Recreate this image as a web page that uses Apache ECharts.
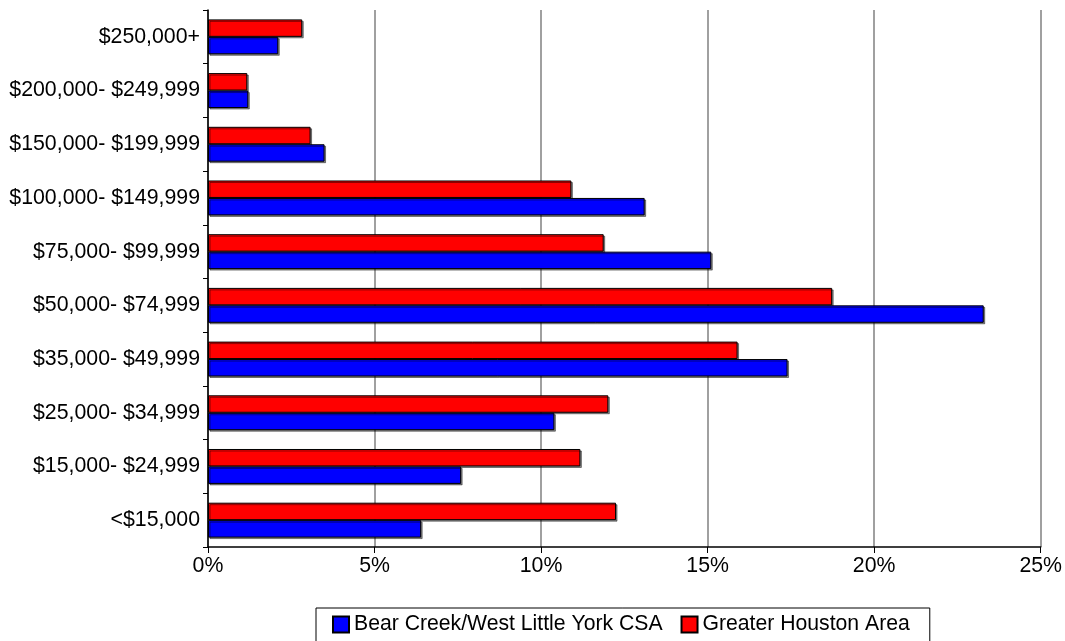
<!DOCTYPE html>
<html>
<head>
<meta charset="utf-8">
<script src="https://cdn.jsdelivr.net/npm/echarts@6/dist/echarts.min.js"></script>
<style>
html,body{margin:0;padding:0;background:#fff;}
#chart{width:1065px;height:641px;}
</style>
</head>
<body>
<div id="chart"></div>
<script>
var categories = ["<$15,000", "$15,000- $24,999", "$25,000- $34,999", "$35,000- $49,999", "$50,000- $74,999", "$75,000- $99,999", "$100,000- $149,999", "$150,000- $199,999", "$200,000- $249,999", "$250,000+"];
var bearCreek = [6.40, 7.60, 10.40, 17.40, 23.29, 15.11, 13.11, 3.50, 1.21, 2.11];
var houston = [12.25, 11.18, 12.02, 15.90, 18.74, 11.88, 10.91, 3.08, 1.18, 2.83];
var seriesNames = ["Bear Creek/West Little York CSA", "Greater Houston Area"];

var font = "'Liberation Sans', Arial, sans-serif";
var chart = echarts.init(document.getElementById('chart'), null, {renderer: 'canvas'});
function barStyle(color) {
  return {
    color: color,
    borderColor: '#000',
    borderWidth: 1,
    shadowColor: 'rgba(0,0,0,0.45)',
    shadowOffsetX: 1.5,
    shadowOffsetY: 1.5,
    shadowBlur: 0
  };
}
chart.setOption({
  animation: false,
  backgroundColor: '#fff',
  grid: {left: 208, right: 23, top: 10, bottom: 94, containLabel: false},
  xAxis: {
    type: 'value',
    min: 0, max: 25, interval: 5,
    axisLine: {show: true, lineStyle: {color: '#000', width: 1.5}},
    axisTick: {show: true, length: 6, inside: false, lineStyle: {color: '#000', width: 1}},
    splitLine: {show: true, lineStyle: {color: '#808080', width: 1.5}},
    axisLabel: {formatter: '{value}%', color: '#000', fontSize: 21.3, fontFamily: font, margin: 9}
  },
  yAxis: {
    type: 'category',
    data: categories,
    axisLine: {show: true, lineStyle: {color: '#000', width: 1.5}},
    axisTick: {show: true, length: 5, lineStyle: {color: '#000', width: 1}},
    axisLabel: {color: '#000', fontSize: 21.3, fontFamily: font, margin: 8}
  },
  legend: {
    data: seriesNames,
    left: 316, top: 608,
    orient: 'horizontal',
    padding: [6, 20, 8, 16],
    itemGap: 18,
    itemWidth: 16, itemHeight: 16,
    borderColor: '#000', borderWidth: 1,
    textStyle: {color: '#000', fontSize: 21.2, fontFamily: font},
    icon: 'rect'
  },
  series: [
    {name: seriesNames[1], type: 'bar', data: houston, barGap: '0%', barCategoryGap: '35%', itemStyle: barStyle('#FF0000')},
    {name: seriesNames[0], type: 'bar', data: bearCreek, barGap: '0%', barCategoryGap: '35%', itemStyle: barStyle('#0000FF')}
  ]
});
</script>
</body>
</html>
